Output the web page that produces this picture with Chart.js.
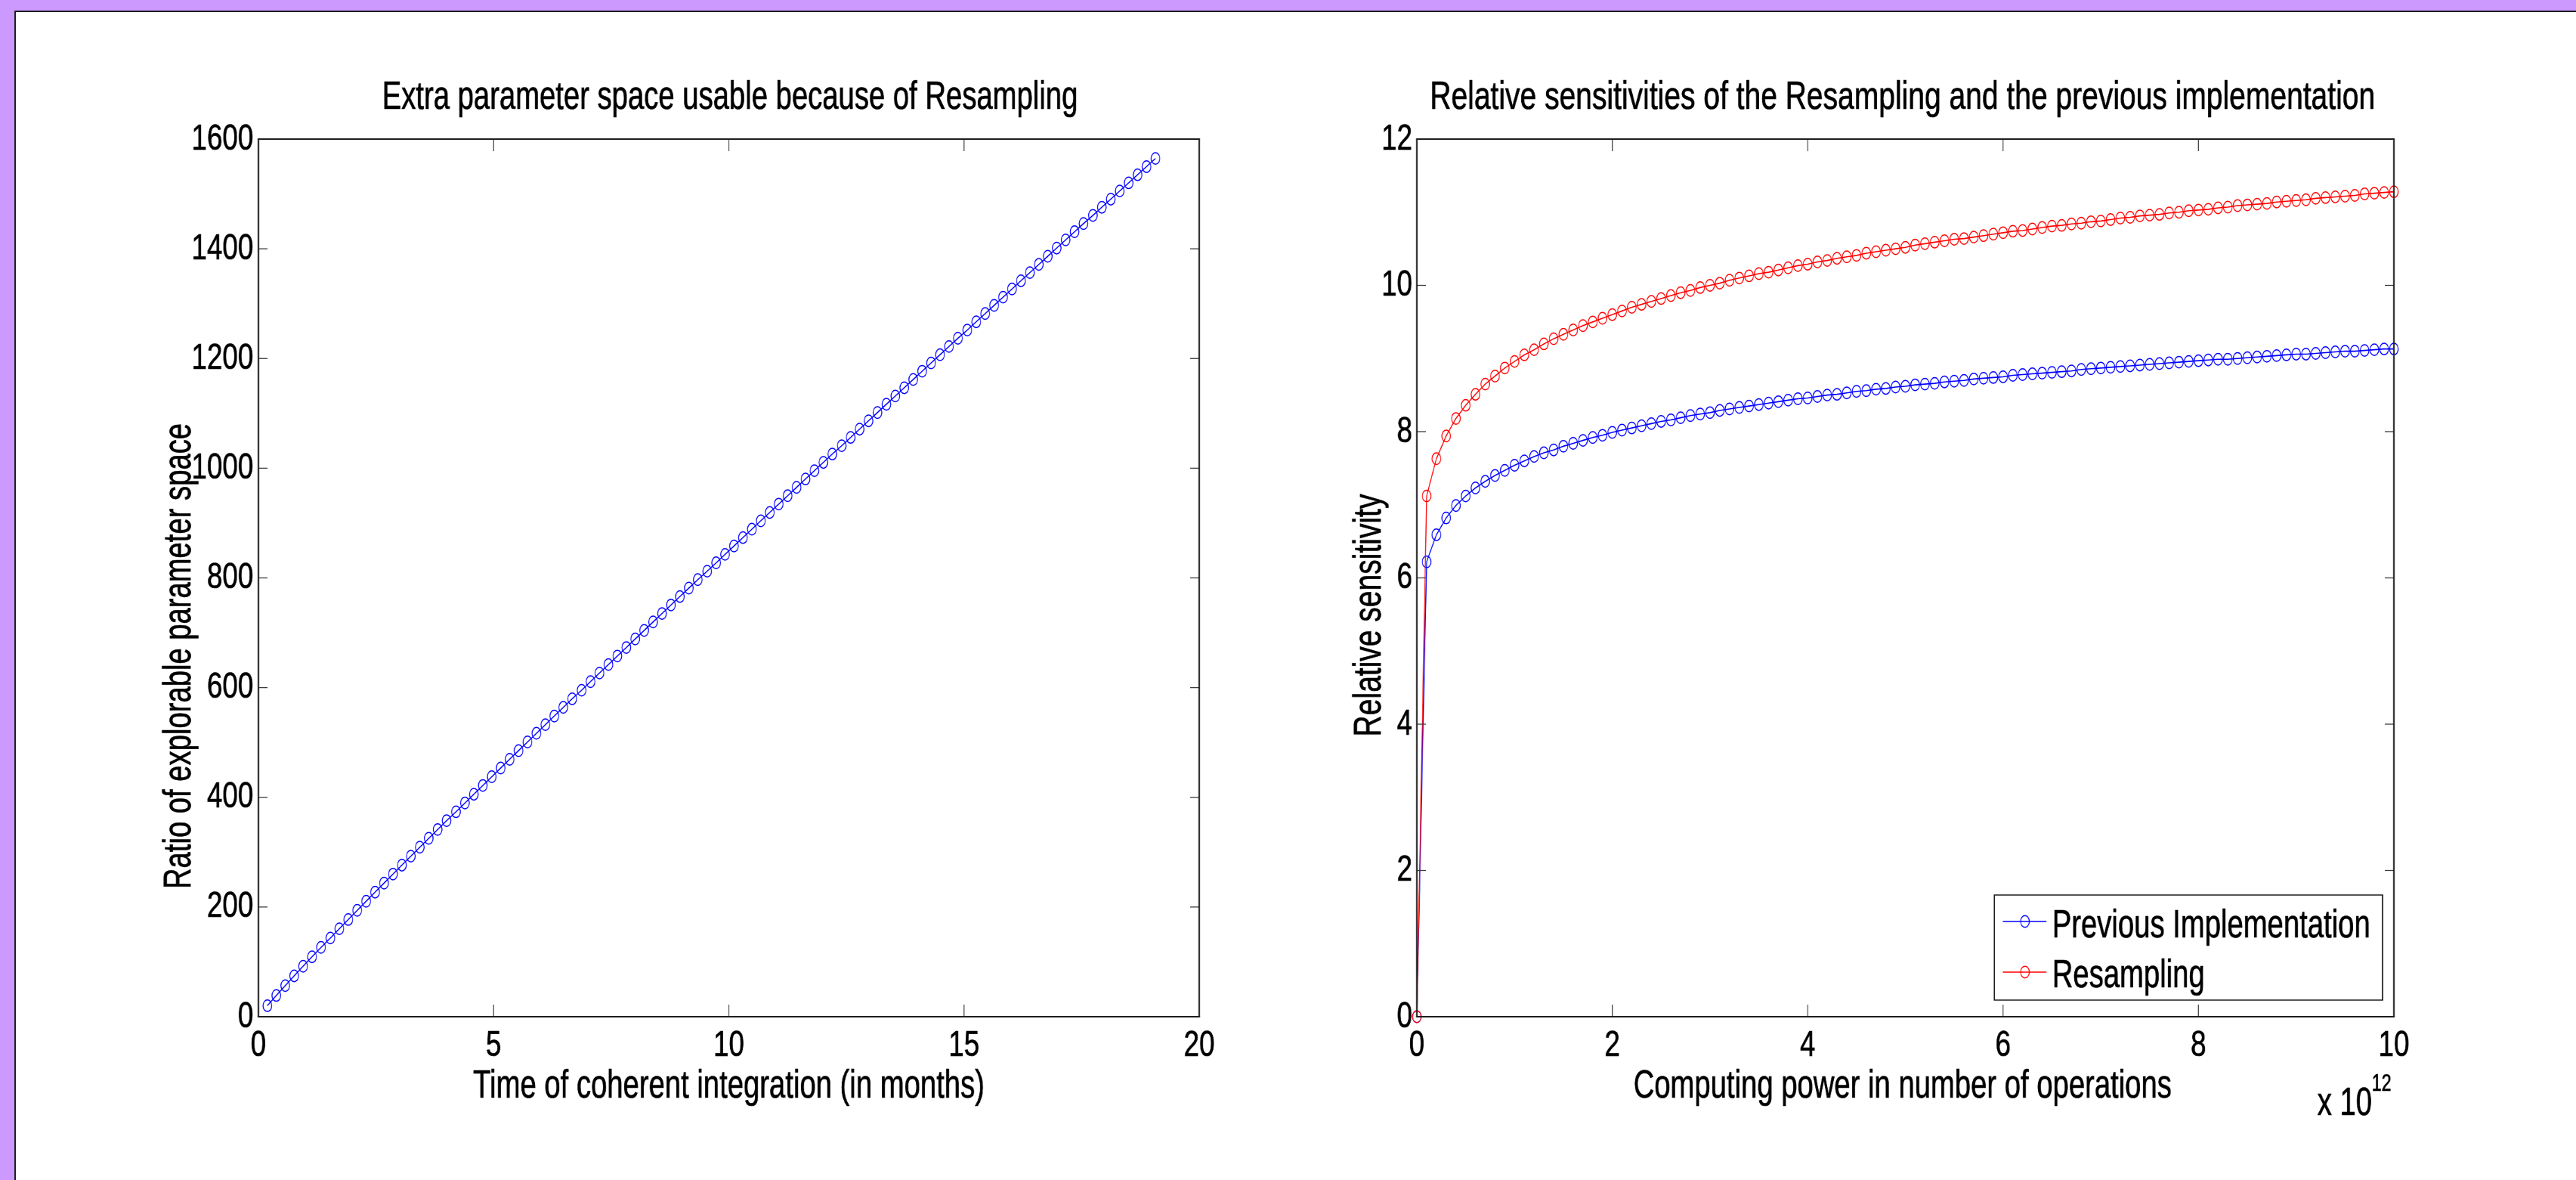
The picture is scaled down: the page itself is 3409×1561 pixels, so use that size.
<!DOCTYPE html>
<html><head><meta charset="utf-8">
<script src="https://cdn.jsdelivr.net/npm/chart.js@4.4.1/dist/chart.umd.min.js"></script>
<style>
html,body{margin:0;padding:0;width:3409px;height:1561px;overflow:hidden;background:#CC99FF;}
#panel{position:absolute;left:19px;top:14px;right:0;bottom:0;background:#fff;border-left:2px solid #1e1e1e;border-top:2px solid #1e1e1e;}
canvas{position:absolute;top:0;}
</style></head><body>
<div id="panel"></div>
<canvas id="cA" width="2320" height="1561" style="left:0px;width:1740px;height:1561px;"></canvas>
<canvas id="cB" width="2228" height="1561" style="left:1740px;width:1671px;height:1561px;"></canvas>
<script>
// ---------- data (left panel) ----------
const monthsX = [0.19,0.38,0.57,0.76,0.95,1.14,1.33,1.53,1.72,1.91,
2.10,2.29,2.48,2.67,2.86,3.05,3.24,3.43,3.62,3.81,
4.00,4.20,4.39,4.58,4.77,4.96,5.15,5.34,5.53,5.72,
5.91,6.10,6.29,6.48,6.67,6.87,7.06,7.25,7.44,7.63,
7.82,8.01,8.20,8.39,8.58,8.77,8.96,9.15,9.34,9.54,
9.73,9.92,10.11,10.30,10.49,10.68,10.87,11.06,11.25,11.44,
11.63,11.82,12.01,12.20,12.40,12.59,12.78,12.97,13.16,13.35,
13.54,13.73,13.92,14.11,14.30,14.49,14.68,14.87,15.07,15.26,
15.45,15.64,15.83,16.02,16.21,16.40,16.59,16.78,16.97,17.16,
17.35,17.54,17.74,17.93,18.12,18.31,18.50,18.69,18.88,19.07];
const ratioY = [20.1,38.7,56.7,74.5,92.0,109.3,126.4,143.5,160.4,177.2,
193.9,210.5,227.1,243.6,260.0,276.4,292.7,309.0,325.2,341.3,
357.5,373.6,389.6,405.6,421.6,437.5,453.4,469.3,485.1,500.9,
516.7,532.5,548.2,563.9,579.6,595.2,610.9,626.5,642.0,657.6,
673.1,688.7,704.2,719.7,735.1,750.6,766.0,781.4,796.8,812.2,
827.5,842.9,858.2,873.5,888.8,904.1,919.3,934.6,949.8,965.0,
980.3,995.5,1010.6,1025.8,1041.0,1056.1,1071.2,1086.4,1101.5,1116.6,
1131.6,1146.7,1161.8,1176.8,1191.9,1206.9,1221.9,1236.9,1251.9,1266.9,
1281.9,1296.8,1311.8,1326.7,1341.7,1356.6,1371.5,1386.4,1401.3,1416.2,
1431.1,1446.0,1460.8,1475.7,1490.5,1505.4,1520.2,1535.0,1549.8,1564.7];
const leftXTicks = [0,5,10,15,20];
const leftYTicks = [0,200,400,600,800,1000,1200,1400,1600];

// ---------- data (right panel), x in units of 10^12 operations ----------
const computeExp = 12;
const computeX = [0,0.1,0.2,0.3,0.4,0.5,0.6,0.7,0.8,0.9,1.0,
1.1,1.2,1.3,1.4,1.5,1.6,1.7,1.8,1.9,2.0,
2.1,2.2,2.3,2.4,2.5,2.6,2.7,2.8,2.9,3.0,
3.1,3.2,3.3,3.4,3.5,3.6,3.7,3.8,3.9,4.0,
4.1,4.2,4.3,4.4,4.5,4.6,4.7,4.8,4.9,5.0,
5.1,5.2,5.3,5.4,5.5,5.6,5.7,5.8,5.9,6.0,
6.1,6.2,6.3,6.4,6.5,6.6,6.7,6.8,6.9,7.0,
7.1,7.2,7.3,7.4,7.5,7.6,7.7,7.8,7.9,8.0,
8.1,8.2,8.3,8.4,8.5,8.6,8.7,8.8,8.9,9.0,
9.1,9.2,9.3,9.4,9.5,9.6,9.7,9.8,9.9,10.0];
const prevImpl = [0,
6.22,6.59,6.82,6.99,7.12,7.23,7.32,7.40,7.47,7.54,
7.60,7.66,7.71,7.75,7.80,7.84,7.88,7.92,7.95,7.99,
8.02,8.05,8.08,8.11,8.14,8.16,8.19,8.22,8.24,8.26,
8.29,8.31,8.33,8.35,8.37,8.39,8.41,8.43,8.45,8.46,
8.48,8.50,8.51,8.53,8.55,8.56,8.58,8.59,8.61,8.62,
8.64,8.65,8.66,8.68,8.69,8.70,8.72,8.73,8.74,8.75,
8.77,8.78,8.79,8.80,8.81,8.82,8.83,8.85,8.86,8.87,
8.88,8.89,8.90,8.91,8.92,8.93,8.94,8.95,8.96,8.97,
8.98,8.99,8.99,9.00,9.01,9.02,9.03,9.04,9.05,9.06,
9.06,9.07,9.08,9.09,9.10,9.10,9.11,9.12,9.13,9.13];
const resampling = [0,
7.12,7.63,7.94,8.18,8.36,8.51,8.65,8.76,8.87,8.96,
9.05,9.12,9.20,9.27,9.33,9.39,9.45,9.50,9.55,9.60,
9.65,9.70,9.74,9.78,9.82,9.86,9.90,9.93,9.97,10.00,
10.03,10.07,10.10,10.13,10.16,10.18,10.21,10.24,10.27,10.29,
10.32,10.34,10.37,10.39,10.41,10.44,10.46,10.48,10.50,10.52,
10.55,10.57,10.59,10.61,10.63,10.64,10.66,10.68,10.70,10.72,
10.74,10.75,10.77,10.79,10.81,10.82,10.84,10.85,10.87,10.88,
10.90,10.92,10.93,10.95,10.96,10.97,10.99,11.00,11.02,11.03,
11.04,11.06,11.07,11.09,11.10,11.11,11.12,11.14,11.15,11.16,
11.17,11.19,11.20,11.21,11.22,11.23,11.25,11.26,11.27,11.28];
const rightXTicks = [0,2,4,6,8,10];
const rightYTicks = [0,2,4,6,8,10,12];

// ---------- rendering ----------
const FONT = '"Liberation Sans", Arial, Helvetica, sans-serif';
const S = 0.75; // canvases are drawn wide and shown horizontally compressed, like the reference
const BLUE = '#0000ff', RED = '#ff0000';
const TEXT_STROKE = 0.7;

const framePlugin = {
  id: 'frame',
  afterDraw(chart, args, o) {
    const ctx = chart.ctx;
    const {left, right, top, bottom} = chart.chartArea;
    const xs = chart.scales.x, ys = chart.scales.y;
    const seg = (x1,y1,x2,y2) => { ctx.beginPath(); ctx.moveTo(x1,y1); ctx.lineTo(x2,y2); ctx.stroke(); };
    const txt = (s, x, y, size, align) => {
      ctx.font = size + 'px ' + FONT; ctx.textAlign = align; ctx.textBaseline = 'alphabetic';
      ctx.fillStyle = '#000'; ctx.fillText(s, x, y);
      ctx.strokeStyle = '#000'; ctx.lineWidth = TEXT_STROKE; ctx.strokeText(s, x, y);
    };
    ctx.save();
    ctx.lineCap = 'butt';
    ctx.strokeStyle = '#3c3c3c';
    ctx.lineWidth = 1.6;
    xs.ticks.forEach(t => { const p = xs.getPixelForValue(t.value); seg(p,bottom,p,bottom-16); seg(p,top,p,top+16); });
    ctx.lineWidth = 1.3;
    ys.ticks.forEach(t => { const p = ys.getPixelForValue(t.value); seg(left,p,left+16,p); seg(right,p,right-16,p); });
    ctx.strokeStyle = '#1e1e1e';
    ctx.lineWidth = 2; seg(left-1.3,top,right+1.3,top); seg(left-1.3,bottom,right+1.3,bottom);
    ctx.lineWidth = 2.6; seg(left,top,left,bottom); seg(right,top,right,bottom);

    txt(o.title, o.titleX, 144, o.titleSize, 'center');
    txt(o.xlabel, o.xlabelX, 1452, 51, 'center');
    ctx.save();
    ctx.translate(o.ylabelX, o.ylabelY);
    ctx.rotate(-Math.PI/2);
    ctx.scale(o.ylabelScale, 1/S);
    txt(o.ylabel, 0, 0, 52, 'center');
    ctx.restore();

    if (o.exponent) {
      txt('x 10', o.exponent.x, 1475, 51, 'left');
      txt(String(o.exponent.value), o.exponent.x + 96, 1443, 31, 'left');
    }
    if (o.legend) {
      const L = o.legend;
      ctx.fillStyle = '#fff';
      ctx.fillRect(L.x1, L.y1, L.x2 - L.x1, L.y2 - L.y1);
      ctx.strokeStyle = '#1e1e1e';
      ctx.lineWidth = 1.6; seg(L.x1-1,L.y1,L.x2+1,L.y1); seg(L.x1-1,L.y2,L.x2+1,L.y2);
      ctx.lineWidth = 2.1; seg(L.x1,L.y1,L.x1,L.y2); seg(L.x2,L.y1,L.x2,L.y2);
      chart.data.datasets.forEach((ds, i) => {
        const ly = L.rowY[i];
        ctx.strokeStyle = ds.borderColor;
        ctx.lineWidth = 1.6; seg(L.x1 + 15, ly, L.x1 + 92, ly);
        ctx.lineWidth = 1.5; ctx.beginPath(); ctx.arc(L.x1 + 54, ly, 7.7, 0, Math.PI*2); ctx.stroke();
        txt(ds.label, L.x1 + 102, L.baseY[i], 51, 'left');
      });
    }
    ctx.restore();
  }
};

function axis(min, max, tickList, fixSize, pad) {
  return {
    type: 'linear', min: min, max: max,
    grid: {display: false, drawTicks: false},
    border: {display: false},
    afterBuildTicks: s => { s.ticks = tickList.map(v => ({value: v})); },
    afterFit: fixSize,
    ticks: {font: {family: FONT, size: 49}, color: '#000', padding: pad, maxRotation: 0, minRotation: 0, autoSkip: false,
            textStrokeColor: '#000', textStrokeWidth: TEXT_STROKE,
            callback: v => String(v)}
  };
}

function series(label, xs, ys, color, order) {
  return {
    label: label, data: xs.map((x, i) => ({x: x, y: ys[i]})), order: order,
    borderColor: color, borderWidth: 1.6, fill: false, tension: 0, clip: false,
    pointStyle: 'circle', pointRadius: 7.7, pointBorderWidth: 1.5,
    pointBorderColor: color, pointBackgroundColor: 'rgba(0,0,0,0)'
  };
}

new Chart(document.getElementById('cA'), {
  type: 'line',
  data: {datasets: [series('Ratio', monthsX, ratioY, BLUE, 0)]},
  options: {
    responsive: false, animation: false, devicePixelRatio: 1, events: [],
    layout: {padding: {left: 0, right: 204, top: 184, bottom: 0}},
    plugins: {
      legend: {display: false}, title: {display: false}, tooltip: {enabled: false},
      frame: {
        title: 'Extra parameter space usable because of Resampling', titleX: 1288, titleSize: 51,
        xlabel: 'Time of coherent integration (in months)', xlabelX: 1286,
        ylabel: 'Ratio of explorable parameter space', ylabelX: 336, ylabelY: 868, ylabelScale: 0.735
      }
    },
    scales: {
      x: axis(0, 20, leftXTicks, s => { s.height = 216; }, 9),
      y: axis(0, 1600, leftYTicks, s => { s.width = 456; }, 9)
    }
  },
  plugins: [framePlugin]
});

new Chart(document.getElementById('cB'), {
  type: 'line',
  data: {datasets: [
    series('Previous Implementation', computeX, prevImpl, BLUE, 1),
    series('Resampling', computeX, resampling, RED, 0)
  ]},
  options: {
    responsive: false, animation: false, devicePixelRatio: 1, events: [],
    layout: {padding: {left: 0, right: 324, top: 184, bottom: 0}},
    plugins: {
      legend: {display: false}, title: {display: false}, tooltip: {enabled: false},
      frame: {
        title: 'Relative sensitivities of the Resampling and the previous implementation', titleX: 1037, titleSize: 52,
        xlabel: 'Computing power in number of operations', xlabelX: 1037,
        ylabel: 'Relative sensitivity', ylabelX: 116, ylabelY: 814, ylabelScale: 0.75,
        exponent: {x: 1769, value: computeExp},
        legend: {x1: 1199, y1: 1184, x2: 1884, y2: 1323, rowY: [1219, 1286], baseY: [1240, 1306]}
      }
    },
    scales: {
      x: axis(0, 10, rightXTicks, s => { s.height = 216; }, 9),
      y: axis(0, 12, rightYTicks, s => { s.width = 180; }, 8)
    }
  },
  plugins: [framePlugin]
});
</script></body></html>
